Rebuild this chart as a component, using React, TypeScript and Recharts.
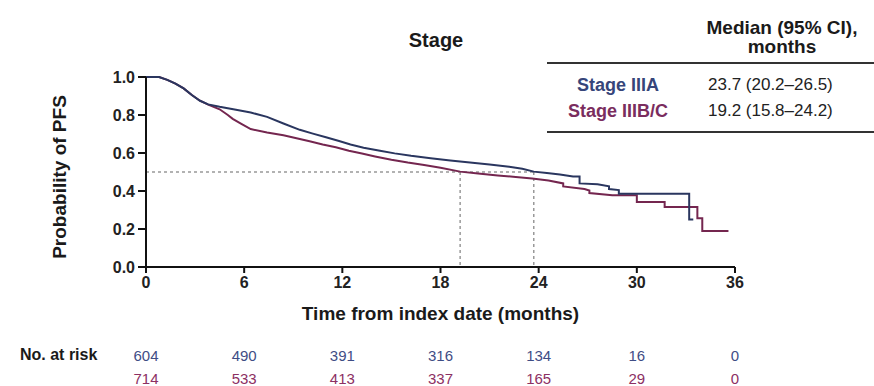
import { LineChart, Line, XAxis, YAxis, ReferenceLine } from "recharts";

// Kaplan-Meier PFS curves; a repeated time marks a vertical drop
const IIIA_T = [0, 0.8, 1.3, 1.8, 2.3, 2.8, 3.3, 3.8, 4.5, 5.5, 6.4, 7.4, 8.4, 9.4, 10.2, 11.0, 11.8, 12.5, 13.3, 14.3, 15.2, 16.2, 17.4, 18.6, 19.8, 21.0, 22.2, 23.0, 23.7, 24.5, 25.3, 26.1, 26.5, 26.5, 27.6, 28.3, 28.3, 28.9, 28.9, 33.2, 33.2, 33.45];
const IIIA_P = [1.0, 1.0, 0.985, 0.965, 0.94, 0.905, 0.875, 0.856, 0.843, 0.828, 0.813, 0.79, 0.755, 0.722, 0.702, 0.683, 0.663, 0.645, 0.628, 0.612, 0.598, 0.585, 0.572, 0.56, 0.55, 0.54, 0.528, 0.517, 0.502, 0.495, 0.487, 0.476, 0.476, 0.44, 0.436, 0.425, 0.41, 0.405, 0.386, 0.386, 0.25, 0.25];

const IIIBC_T = [0, 0.8, 1.3, 1.8, 2.3, 2.8, 3.3, 3.8, 4.5, 5.0, 5.3, 5.8, 6.4, 7.4, 8.4, 9.2, 10.0, 10.8, 11.6, 12.4, 13.2, 14.0, 15.0, 16.0, 17.0, 18.0, 19.2, 20.3, 21.5, 22.6, 23.6, 24.6, 25.5, 25.5, 26.8, 27.1, 27.1, 28.5, 30.0, 30.0, 31.7, 31.7, 33.7, 33.7, 34.0, 34.0, 35.6];
const IIIBC_P = [1.0, 1.0, 0.985, 0.965, 0.94, 0.905, 0.875, 0.855, 0.83, 0.8, 0.78, 0.755, 0.726, 0.708, 0.693, 0.678, 0.662, 0.645, 0.63, 0.612, 0.597, 0.582, 0.565, 0.55, 0.537, 0.522, 0.502, 0.492, 0.482, 0.474, 0.466, 0.455, 0.44, 0.424, 0.41, 0.403, 0.389, 0.377, 0.377, 0.342, 0.342, 0.316, 0.316, 0.256, 0.256, 0.19, 0.19];

const X_TICKS = [0, 6, 12, 18, 24, 30, 36];
const Y_TICKS = [0, 0.2, 0.4, 0.6, 0.8, 1.0];
const RISK_IIIA = [604, 490, 391, 316, 134, 16, 0];
const RISK_IIIBC = [714, 533, 413, 337, 165, 29, 0];

const MEDIAN_IIIA = 23.7;
const MEDIAN_IIIBC = 19.2;
const TABLE_ROWS = [
  { label: "Stage IIIA", value: "23.7 (20.2–26.5)", color: "#36457a" },
  { label: "Stage IIIB/C", value: "19.2 (15.8–24.2)", color: "#7a2d5e" },
];

const BLUE = "#2a365f";
const RED = "#74264f";
const FONT = '"Liberation Sans", Arial, sans-serif';

const toPoints = (ts: number[], ps: number[]) => ts.map((t, i) => ({ t, p: ps[i] }));

// x tick: month label plus the two at-risk counts underneath
function TimeTick(props: any) {
  const { x, y, payload } = props;
  const i = X_TICKS.indexOf(payload.value);
  return (
    <g fontFamily={FONT}>
      <text x={x} y={y} dy="0.71em" textAnchor="middle" fontSize={16} fontWeight={700} fill="#222">
        {payload.value}
      </text>
      <text x={x} y={y + 78} dominantBaseline="central" textAnchor="middle" fontSize={15} fill="#3f4d85">
        {RISK_IIIA[i]}
      </text>
      <text x={x} y={y + 101} dominantBaseline="central" textAnchor="middle" fontSize={15} fill="#8c3063">
        {RISK_IIIBC[i]}
      </text>
    </g>
  );
}

export default function App() {
  const dataA = toPoints(IIIA_T, IIIA_P);
  const dataB = toPoints(IIIBC_T, IIIBC_P);

  return (
    <div style={{ position: "absolute", left: 0, top: 0, width: 874, height: 386, background: "#fff", fontFamily: FONT, color: "#1a1a1a" }}>
      <LineChart width={874} height={386} margin={{ top: 77, right: 139, left: 86, bottom: 0 }}>
        <XAxis
          type="number"
          dataKey="t"
          domain={[0, 36]}
          ticks={X_TICKS}
          height={119}
          tickSize={6}
          tickMargin={4}
          axisLine={{ stroke: "#111", strokeWidth: 2 }}
          tickLine={{ stroke: "#111", strokeWidth: 2 }}
          tick={<TimeTick />}
          label={{ value: "Time from index date (months)", position: "insideTop", offset: 40, fontSize: 19, fontWeight: 700, fill: "#1a1a1a", fontFamily: FONT }}
        />
        <YAxis
          type="number"
          domain={[0, 1]}
          ticks={Y_TICKS}
          width={60}
          tickSize={8}
          tickMargin={3}
          axisLine={{ stroke: "#111", strokeWidth: 2 }}
          tickLine={{ stroke: "#111", strokeWidth: 2 }}
          tick={{ fontSize: 16, fontWeight: 700, fill: "#222", fontFamily: FONT }}
          tickFormatter={(v: number) => v.toFixed(1)}
        />
        <ReferenceLine
          segment={[{ x: 0, y: 0.5 }, { x: MEDIAN_IIIA, y: 0.5 }]}
          stroke="#999"
          strokeWidth={1.5}
          strokeDasharray="3 3"
        />
        <ReferenceLine
          segment={[{ x: MEDIAN_IIIBC, y: 0.5 }, { x: MEDIAN_IIIBC, y: 0 }]}
          stroke="#999"
          strokeWidth={1.5}
          strokeDasharray="3 3"
        />
        <ReferenceLine
          segment={[{ x: MEDIAN_IIIA, y: 0.5 }, { x: MEDIAN_IIIA, y: 0 }]}
          stroke="#999"
          strokeWidth={1.5}
          strokeDasharray="3 3"
        />
        <Line data={dataB} dataKey="p" type="linear" stroke={RED} strokeWidth={2} dot={false} isAnimationActive={false} />
        <Line data={dataA} dataKey="p" type="linear" stroke={BLUE} strokeWidth={2} dot={false} isAnimationActive={false} />
      </LineChart>

      {/* y axis title */}
      <div style={{ position: "absolute", left: 60 - 110, top: 177 - 11, width: 220, height: 22, lineHeight: "22px", textAlign: "center", fontSize: 19, fontWeight: 700, transform: "rotate(-90deg)" }}>
        Probability of PFS
      </div>

      {/* panel title */}
      <div style={{ position: "absolute", left: 336, top: 28, width: 200, lineHeight: "24px", textAlign: "center", fontSize: 20, fontWeight: 700 }}>
        Stage
      </div>

      {/* median table */}
      <div style={{ position: "absolute", left: 682, top: 18, width: 200, lineHeight: "19px", textAlign: "center", fontSize: 19, fontWeight: 700 }}>
        Median (95% CI),
        <br />
        months
      </div>
      <div style={{ position: "absolute", left: 547, top: 62, width: 327, height: 2, background: "#333" }} />
      {TABLE_ROWS.map((r, i) => (
        <div key={r.label} style={{ position: "absolute", left: 0, top: 85 + i * 26 - 11, width: 874, height: 22, lineHeight: "22px" }}>
          <span style={{ position: "absolute", left: 518, width: 200, textAlign: "center", fontSize: 18, fontWeight: 700, color: r.color }}>{r.label}</span>
          <span style={{ position: "absolute", left: 708, fontSize: 17, color: "#222", whiteSpace: "nowrap" }}>{r.value}</span>
        </div>
      ))}
      <div style={{ position: "absolute", left: 547, top: 131, width: 327, height: 2, background: "#333" }} />

      <div style={{ position: "absolute", left: 20, top: 355 - 11, lineHeight: "22px", fontSize: 16, fontWeight: 700 }}>
        No. at risk
      </div>
    </div>
  );
}
